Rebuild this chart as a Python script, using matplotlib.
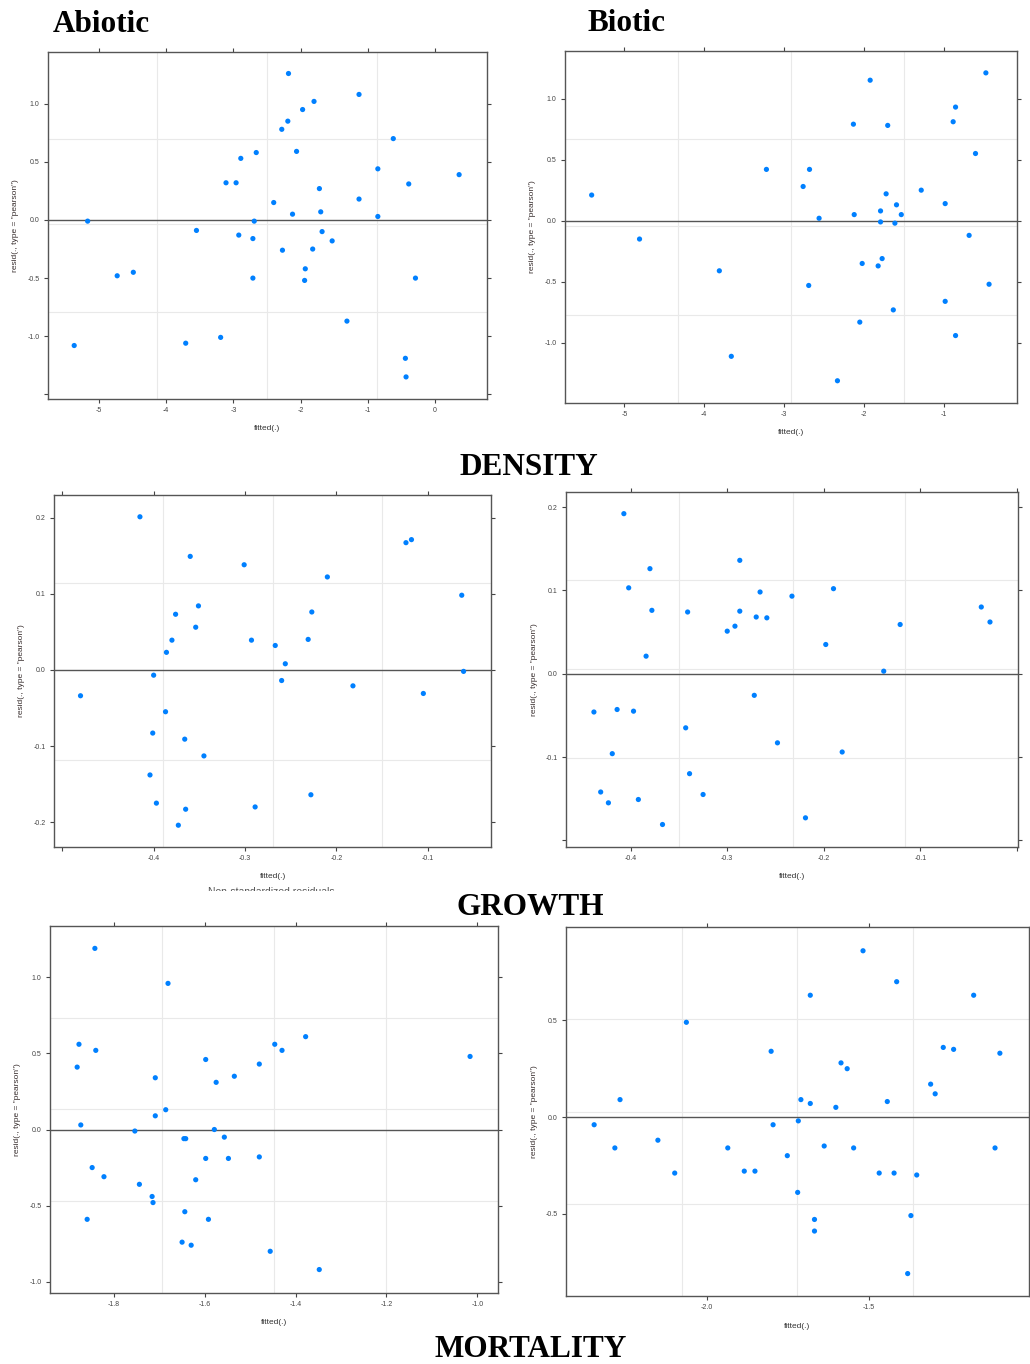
import matplotlib
matplotlib.use("Agg")
import matplotlib.pyplot as plt
from matplotlib.transforms import Bbox, TransformedBbox

plt.rcParams['font.family'] = ['Liberation Sans', 'DejaVu Sans']
plt.rcParams['axes.unicode_minus'] = False

# --- Data ---
# DENSITY, abiotic
dens_abio_fit = [-2.18, -1.13, -1.80, -1.97, -2.19, -2.28, -0.62, -2.06, -2.66, -2.89,
                 -0.85, 0.36, -3.11, -2.96, -0.39, -1.72, -2.40, -1.13, -2.12, -1.70,
                 -0.85, -5.17, -2.69, -3.55, -2.92, -1.68, -2.71, -1.53, -2.27, -1.82,
                 -1.93, -4.73, -4.49, -2.71, -1.94, -0.29, -1.31, -5.37, -3.71, -3.19,
                 -0.44, -0.43]
dens_abio_res = [1.26, 1.08, 1.02, 0.95, 0.85, 0.78, 0.70, 0.59, 0.58, 0.53,
                 0.44, 0.39, 0.32, 0.32, 0.31, 0.27, 0.15, 0.18, 0.05, 0.07,
                 0.03, -0.01, -0.01, -0.09, -0.13, -0.10, -0.16, -0.18, -0.26, -0.25,
                 -0.42, -0.48, -0.45, -0.50, -0.52, -0.50, -0.87, -1.08, -1.06, -1.01,
                 -1.19, -1.35]

# DENSITY, biotic
dens_bio_fit = [-5.41, -4.81, -3.81, -3.66, -3.22, -2.76, -2.68, -2.69, -2.56, -2.33,
                -2.13, -2.12, -2.02, -2.05, -1.92, -1.79, -1.79, -1.82, -1.77, -1.72,
                -1.70, -1.59, -1.61, -1.63, -1.53, -1.28, -0.98, -0.98, -0.85, -0.88,
                -0.85, -0.68, -0.60, -0.47, -0.43]
dens_bio_res = [0.21, -0.15, -0.41, -1.11, 0.42, 0.28, 0.42, -0.53, 0.02, -1.31,
                0.79, 0.05, -0.35, -0.83, 1.15, 0.08, -0.01, -0.37, -0.31, 0.22,
                0.78, 0.13, -0.02, -0.73, 0.05, 0.25, 0.14, -0.66, 0.93, 0.81,
                -0.94, -0.12, 0.55, 1.21, -0.52]

# GROWTH, abiotic
grow_abio_fit = [-0.415, -0.360, -0.301, -0.124, -0.118, -0.210, -0.063, -0.351, -0.376, -0.227,
                 -0.354, -0.380, -0.293, -0.231, -0.267, -0.386, -0.256, -0.400, -0.061, -0.480,
                 -0.260, -0.182, -0.105, -0.387, -0.401, -0.366, -0.345, -0.404, -0.397, -0.365,
                 -0.373, -0.289, -0.228]
grow_abio_res = [0.201, 0.149, 0.138, 0.167, 0.171, 0.122, 0.098, 0.084, 0.073, 0.076,
                 0.056, 0.039, 0.039, 0.040, 0.032, 0.023, 0.008, -0.007, -0.002, -0.034,
                 -0.014, -0.021, -0.031, -0.055, -0.083, -0.091, -0.113, -0.138, -0.175, -0.183,
                 -0.204, -0.180, -0.164]

# GROWTH, biotic
grow_bio_fit = [-0.407, -0.380, -0.402, -0.378, -0.384, -0.287, -0.341, -0.266, -0.287, -0.270,
                -0.259, -0.292, -0.300, -0.233, -0.190, -0.198, -0.121, -0.138, -0.037, -0.028,
                -0.272, -0.438, -0.414, -0.397, -0.343, -0.248, -0.181, -0.419, -0.339, -0.325,
                -0.431, -0.423, -0.392, -0.367, -0.219]
grow_bio_res = [0.192, 0.126, 0.103, 0.076, 0.021, 0.136, 0.074, 0.098, 0.075, 0.068,
                0.067, 0.057, 0.051, 0.093, 0.102, 0.035, 0.059, 0.003, 0.080, 0.062,
                -0.026, -0.046, -0.043, -0.045, -0.065, -0.083, -0.094, -0.096, -0.120, -0.145,
                -0.142, -0.155, -0.151, -0.181, -0.173]

# MORTALITY, abiotic
mort_abio_fit = [-1.842, -1.681, -1.877, -1.840, -1.881, -1.873, -1.709, -1.686, -1.709, -1.598,
                 -1.575, -1.535, -1.480, -1.446, -1.430, -1.378, -1.016, -1.754, -1.579, -1.646,
                 -1.642, -1.557, -1.598, -1.548, -1.480, -1.848, -1.822, -1.744, -1.620, -1.716,
                 -1.714, -1.644, -1.859, -1.592, -1.650, -1.630, -1.456, -1.348]
mort_abio_res = [1.19, 0.96, 0.56, 0.52, 0.41, 0.03, 0.34, 0.13, 0.09, 0.46,
                 0.31, 0.35, 0.43, 0.56, 0.52, 0.61, 0.48, -0.01, 0.00, -0.06,
                 -0.06, -0.05, -0.19, -0.19, -0.18, -0.25, -0.31, -0.36, -0.33, -0.44,
                 -0.48, -0.54, -0.59, -0.59, -0.74, -0.76, -0.80, -0.92]

# MORTALITY, biotic
mort_bio_fit = [-1.517, -1.413, -1.680, -1.175, -2.063, -1.801, -1.269, -1.237, -1.094, -1.585,
                -1.566, -1.308, -1.294, -2.268, -1.709, -1.680, -1.442, -1.601, -2.348, -1.717,
                -1.795, -2.284, -2.151, -1.935, -1.637, -1.546, -1.109, -1.751, -2.099, -1.884,
                -1.851, -1.467, -1.421, -1.351, -1.719, -1.667, -1.667, -1.369, -1.379]
mort_bio_res = [0.86, 0.70, 0.63, 0.63, 0.49, 0.34, 0.36, 0.35, 0.33, 0.28,
                0.25, 0.17, 0.12, 0.09, 0.09, 0.07, 0.08, 0.05, -0.04, -0.02,
                -0.04, -0.16, -0.12, -0.16, -0.15, -0.16, -0.16, -0.20, -0.29, -0.28,
                -0.28, -0.29, -0.29, -0.30, -0.39, -0.53, -0.59, -0.51, -0.81]

# light reference lines drawn by the original lattice panels
grid_v = {
    'da': [-4.14, -2.50, -0.86], 'db': [-4.33, -2.91, -1.50],
    'ga': [-0.390, -0.269, -0.150], 'gb': [-0.350, -0.232, -0.1155],
    'ma': [-1.694, -1.447, -1.202], 'mb': [-2.075, -1.720, -1.362],
}
grid_h = {
    'da': [0.70, -0.035, -0.79], 'db': [0.668, -0.046, -0.769],
    'ga': [0.1135, -0.1179], 'gb': [0.112, 0.0052, -0.1012],
    'ma': [0.733, 0.1335, -0.4726], 'mb': [0.506, 0.0276, -0.4508],
}

W, H = 1030, 1364
fig = plt.figure(figsize=(W / 100, H / 100), dpi=100)
fig.patch.set_facecolor('white')


def px_axes(x0, y0, x1, y1):
    # pixel box (top-left origin) -> figure axes
    return fig.add_axes([x0 / W, 1 - y1 / H, (x1 - x0) / W, (y1 - y0) / H])


def panel(ax, key, fit, res, xlim, ylim, xt, xtl, yt, ytl, box):
    wpx = box[2] - box[0]
    hpx = box[3] - box[1]
    for v in grid_v[key]:
        ax.axvline(v, color='#e9e9e9', lw=0.8, zorder=0)
    for h in grid_h[key]:
        ax.axhline(h, color='#e9e9e9', lw=0.8, zorder=0)
    ax.axhline(0, color='#555555', lw=1.0, zorder=1)
    ax.scatter(fit, res, s=14, color='#0080ff', edgecolors='none', zorder=3)
    ax.set_xlim(*xlim)
    ax.set_ylim(*ylim)
    ax.set_xticks(xt, xtl)
    ax.set_yticks(yt, ytl)
    ax.tick_params(direction='out', length=3, width=0.8, colors='#444444',
                   labelsize=5, pad=3, top=True, right=True,
                   labeltop=False, labelright=False)
    for s in ax.spines.values():
        s.set_color('#555555')
        s.set_linewidth(1.0)
    ax.text(0.5, -30 / hpx, 'fitted(.)', transform=ax.transAxes,
            ha='center', va='center', fontsize=6, color='#333333')
    ax.text(-32 / wpx, 0.5, 'resid(., type = "pearson")', transform=ax.transAxes,
            ha='center', va='center', rotation=90, fontsize=6, color='#3a3030')


yl_d = ['1.0', '0.5', '0.0', '-0.5', '-1.0']
yv_d = [1.0, 0.5, 0.0, -0.5, -1.0]
yl_g = ['0.2', '0.1', '0.0', '-0.1', '-0.2']
yv_g = [0.2, 0.1, 0.0, -0.1, -0.2]

b1 = (48, 52, 487, 399)
ax1 = px_axes(*b1)
panel(ax1, 'da', dens_abio_fit, dens_abio_res, (-5.76, 0.775), (-1.54, 1.445),
      [-5, -4, -3, -2, -1, 0], ['-5', '-4', '-3', '-2', '-1', '0'],
      yv_d + [-1.5], yl_d + [''], b1)

b2 = (565, 51, 1017, 403)
ax2 = px_axes(*b2)
panel(ax2, 'db', dens_bio_fit, dens_bio_res, (-5.744, -0.08), (-1.492, 1.389),
      [-5, -4, -3, -2, -1], ['-5', '-4', '-3', '-2', '-1'], yv_d, yl_d, b2)

b3 = (54, 495, 491, 847)
ax3 = px_axes(*b3)
panel(ax3, 'ga', grow_abio_fit, grow_abio_res, (-0.509, -0.031), (-0.2326, 0.2296),
      [-0.5, -0.4, -0.3, -0.2, -0.1], ['', '-0.4', '-0.3', '-0.2', '-0.1'], yv_g, yl_g, b3)

b4 = (566, 492, 1018, 847)
ax4 = px_axes(*b4)
panel(ax4, 'gb', grow_bio_fit, grow_bio_res, (-0.4669, 0.001), (-0.208, 0.218),
      [-0.4, -0.3, -0.2, -0.1, 0.0], ['-0.4', '-0.3', '-0.2', '-0.1', ''],
      yv_g, yl_g[:-1] + [''], b4)

b5 = (50, 926, 498, 1293)
ax5 = px_axes(*b5)
panel(ax5, 'ma', mort_abio_fit, mort_abio_res, (-1.9408, -0.9545), (-1.074, 1.337),
      [-1.8, -1.6, -1.4, -1.2, -1.0], ['-1.8', '-1.6', '-1.4', '-1.2', '-1.0'], yv_d, yl_d, b5)

b6 = (566, 927, 1029, 1296)
ax6 = px_axes(*b6)
panel(ax6, 'mb', mort_bio_fit, mort_bio_res, (-2.435, -1.004), (-0.926, 0.983),
      [-2.0, -1.5], ['-2.0', '-1.5'], [0.5, 0.0, -0.5], ['0.5', '0.0', '-0.5'], b6)

# Headings
title_kw = dict(family=['Liberation Serif', 'DejaVu Serif'], fontweight='bold',
                fontsize=22.5, color='black', va='baseline')
fig.text(52.5 / W, 1 - 31.7 / H, 'Abiotic', ha='left', **title_kw)
fig.text(588 / W, 1 - 30.7 / H, 'Biotic', ha='left', **title_kw)
fig.text(528.5 / W, 1 - 475 / H, 'DENSITY', ha='center', **title_kw)
fig.text(530 / W, 1 - 915 / H, 'GROWTH', ha='center', **title_kw)
fig.text(531 / W, 1 - 1356.7 / H, 'MORTALITY', ha='center', **title_kw)

# cropped caption under the growth panel, only its top edge shows
cap = fig.text(271 / W, 1 - 895 / H, 'Non-standardized residuals', ha='center', va='baseline',
               fontsize=7.5, color='#555555')
cap.set_clip_box(TransformedBbox(Bbox([[190 / W, 1 - 890.5 / H], [350 / W, 1 - 887 / H]]),
                                 fig.transFigure))
cap.set_clip_on(True)

fig.savefig('out.png', dpi=100, facecolor='white')
